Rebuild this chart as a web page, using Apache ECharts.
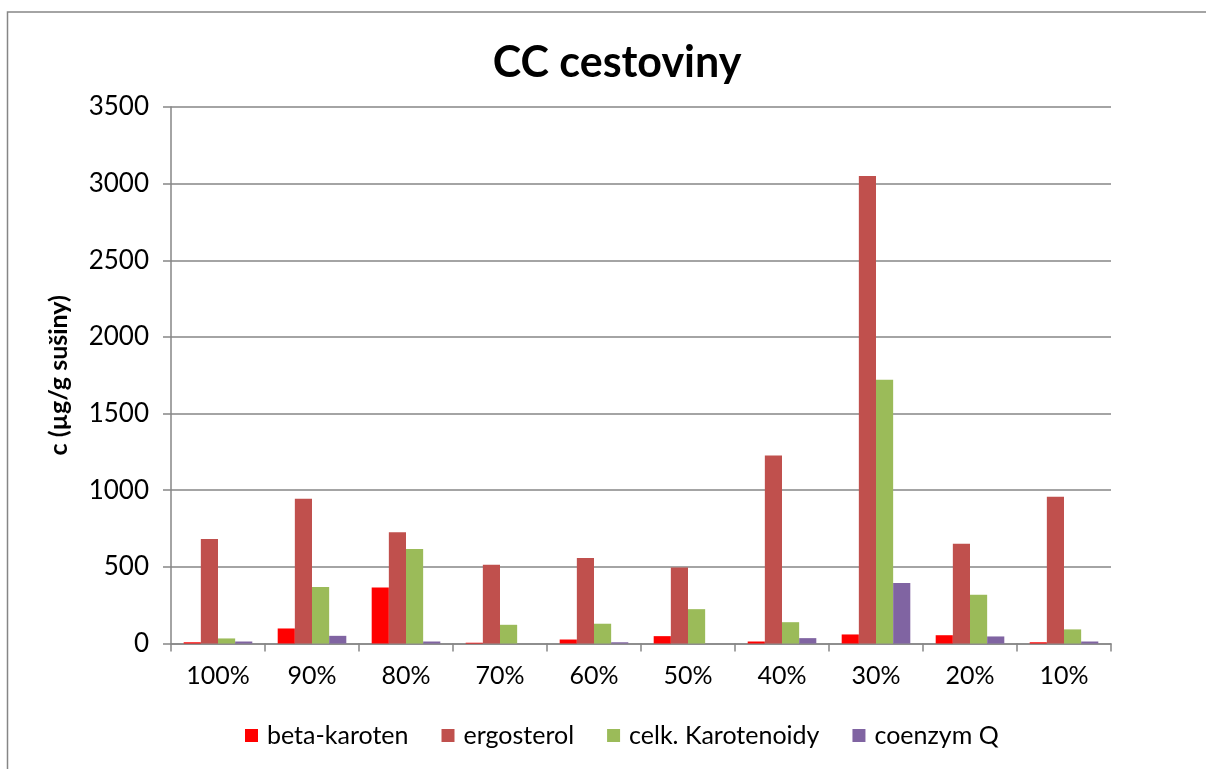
<!DOCTYPE html>
<html>
<head>
<meta charset="utf-8">
<script src="https://cdn.jsdelivr.net/npm/echarts@6/dist/echarts.min.js"></script>
<style>
  html, body { margin: 0; padding: 0; background: #fff; }
  #chart { width: 1206px; height: 769px; }
</style>
</head>
<body>
<div id="chart"></div>
<script>
// Sample dilution levels
const categories = ['100%', '90%', '80%', '70%', '60%', '50%', '40%', '30%', '20%', '10%'];

// Concentrations in µg/g dry matter
const betaKaroten = [8, 98, 366, 5, 26, 48, 13, 59, 54, 8];
const ergosterol = [681, 944, 725, 514, 557, 496, 1227, 3050, 651, 957];
const celkKarotenoidy = [33, 368, 616, 122, 129, 224, 139, 1720, 318, 92];
const coenzymQ = [13, 50, 13, 0, 8, 0, 35, 394, 46, 13];

const seriesNames = ['beta-karoten', 'ergosterol', 'celk. Karotenoidy', 'coenzym Q'];
const seriesData = [betaKaroten, ergosterol, celkKarotenoidy, coenzymQ];
const seriesColors = ['#FF0000', '#C0504D', '#9BBB59', '#8064A2'];

const FONT = 'Lato, "Open Sans", sans-serif';
const chart = echarts.init(document.getElementById('chart'), null, { renderer: 'canvas' });

chart.setOption({
  backgroundColor: '#ffffff',
  animation: false,
  textStyle: { fontFamily: FONT },
  graphic: [{
    type: 'rect',
    shape: { x: 7.5, y: 12, width: 1220, height: 780 },
    style: { fill: 'none', stroke: '#868686', lineWidth: 1.5 },
    silent: true
  }],
  title: {
    text: 'CC cestoviny',
    left: 612,
    textAlign: 'center',
    top: 37,
    textStyle: { fontFamily: FONT, fontSize: 43, fontWeight: 'bold', color: '#000' }
  },
  legend: {
    bottom: 16,
    left: 240,
    itemWidth: 13,
    itemHeight: 13,
    itemGap: 33,
    icon: 'rect',
    textStyle: { fontFamily: FONT, fontSize: 25, color: '#000', padding: [0, 0, 0, 4] },
    data: seriesNames
  },
  grid: { left: 171, right: 95, top: 107, bottom: 125.5, containLabel: false },
  xAxis: {
    type: 'category',
    data: categories,
    axisLine: { lineStyle: { color: '#868686', width: 1.5 } },
    axisTick: { show: true, length: 8, lineStyle: { color: '#868686', width: 1.5 } },
    axisLabel: { fontFamily: FONT, fontSize: 25, color: '#000', margin: 20 }
  },
  yAxis: {
    type: 'value',
    min: 0,
    max: 3500,
    interval: 500,
    name: 'c (µg/g sušiny)',
    nameLocation: 'middle',
    nameGap: 100,
    nameTextStyle: { fontFamily: FONT, fontSize: 25, fontWeight: 'bold', color: '#000' },
    axisLine: { show: true, lineStyle: { color: '#868686', width: 1.5 } },
    axisTick: { show: true, length: 8, lineStyle: { color: '#868686', width: 1.5 } },
    splitLine: { lineStyle: { color: '#868686', width: 1.5 } },
    axisLabel: { fontFamily: FONT, fontSize: 26, color: '#000', margin: 22, formatter: v => String(v) }
  },
  series: seriesNames.map((name, i) => ({
    name: name,
    type: 'bar',
    data: seriesData[i],
    barGap: '0%',
    barCategoryGap: '27%',
    itemStyle: { color: seriesColors[i] }
  }))
});
</script>
</body>
</html>
